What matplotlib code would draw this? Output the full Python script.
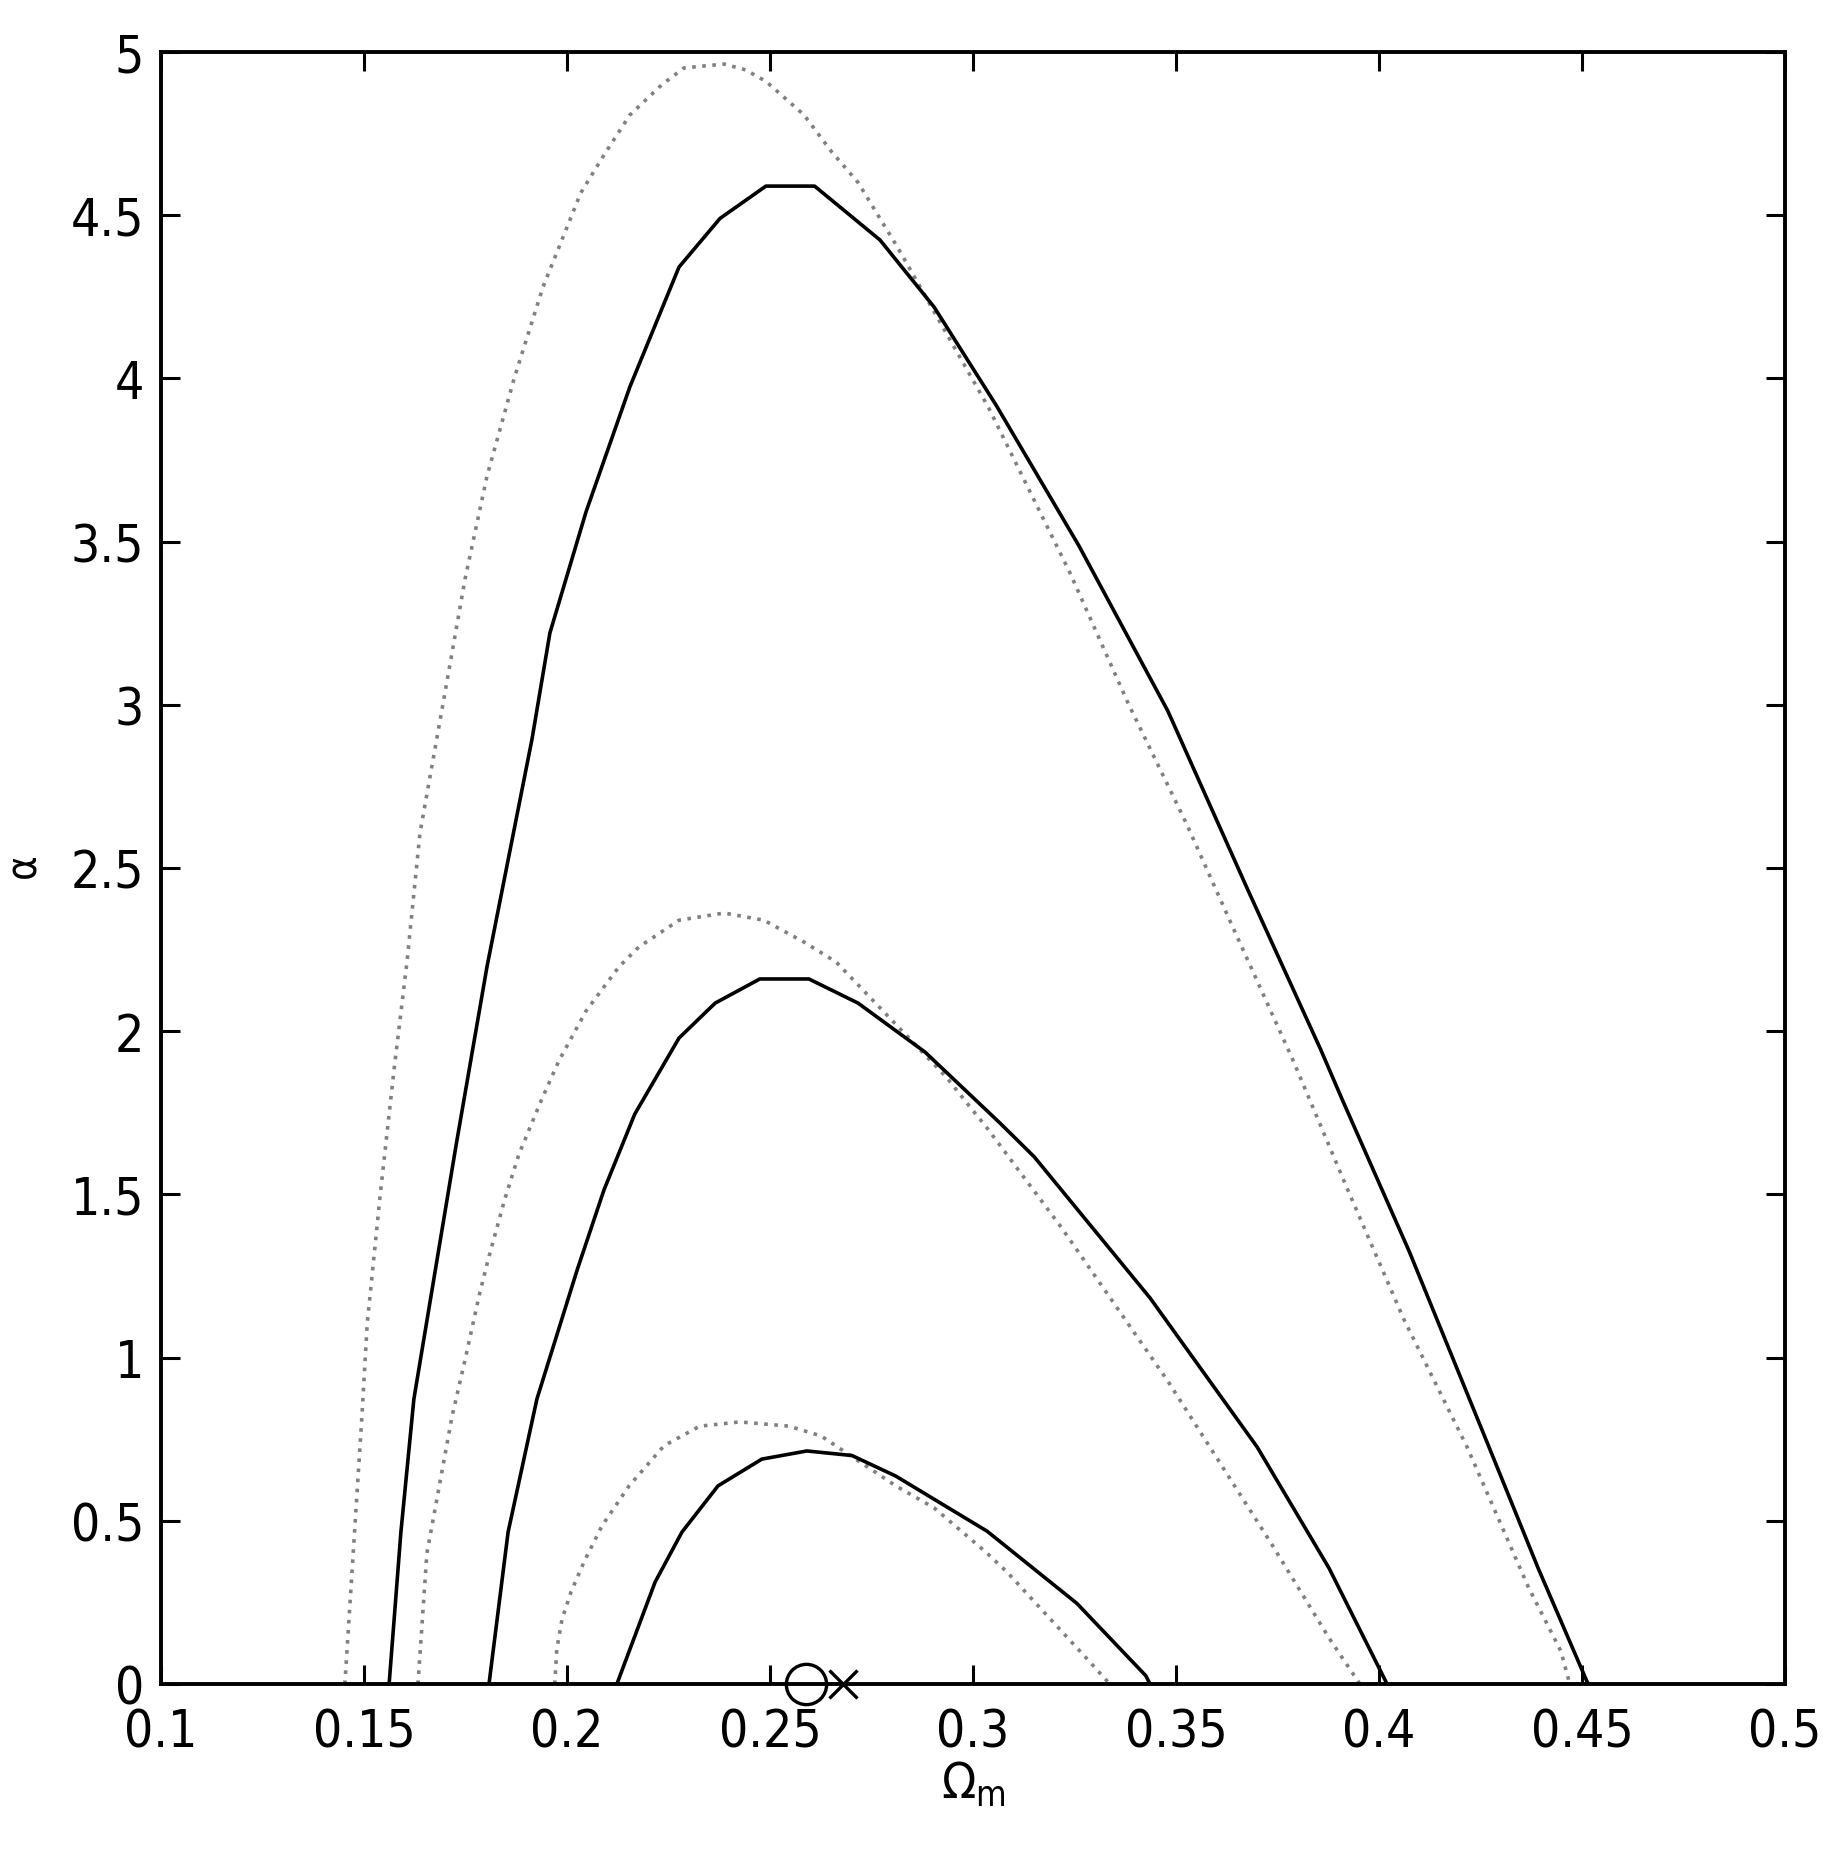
import matplotlib
matplotlib.use('Agg')
import matplotlib.pyplot as plt
from matplotlib import font_manager

names = {f.name for f in font_manager.fontManager.ttflist}
narrow = [n for n in ['Liberation Sans Narrow', 'DejaVu Sans Condensed'] if n in names]
plt.rcParams['font.family'] = narrow + ['DejaVu Sans']
if not narrow:
    plt.rcParams['font.stretch'] = 'condensed'

# contour lines, (Omega_m, alpha)
outer_solid_x = [0.1562, 0.1591, 0.1623, 0.1727, 0.1803, 0.1914, 0.1958, 0.2047, 0.2155, 0.2276, 0.2377,
                 0.249, 0.261, 0.2771, 0.2904, 0.3057, 0.3261, 0.348, 0.3677, 0.3856, 0.3909, 0.4075,
                 0.4271, 0.4392, 0.4515]
outer_solid_y = [0.0, 0.465, 0.873, 1.651, 2.197, 2.895, 3.22, 3.591, 3.974, 4.341, 4.49,
                 4.589, 4.589, 4.424, 4.219, 3.918, 3.487, 2.981, 2.433, 1.945, 1.792, 1.324,
                 0.726, 0.355, 0.0]

outer_dot_x = [0.1453, 0.1495, 0.1508, 0.154, 0.1574, 0.1606, 0.1638, 0.1695, 0.1749, 0.1803, 0.187,
               0.1941, 0.2034, 0.2091, 0.2155, 0.2234, 0.2288, 0.2387, 0.244, 0.249, 0.2584, 0.265,
               0.2717, 0.2815, 0.3039, 0.3239, 0.3382, 0.3525, 0.3633, 0.3788, 0.3919, 0.4061,
               0.4217, 0.4369, 0.4448, 0.447]
outer_dot_y = [0.0, 0.82, 1.103, 1.498, 1.881, 2.212, 2.607, 3.005, 3.385, 3.70, 4.0,
               4.28, 4.568, 4.684, 4.807, 4.90, 4.951, 4.963, 4.945, 4.91, 4.807, 4.697,
               4.60, 4.40, 3.909, 3.404, 3.005, 2.638, 2.338, 1.912, 1.526, 1.118,
               0.726, 0.294, 0.101, 0.0]

mid_solid_x = [0.1808, 0.1855, 0.1926, 0.2025, 0.2091, 0.2167, 0.2276, 0.2365, 0.2475, 0.2596,
               0.2717, 0.2882, 0.3067, 0.3151, 0.3436, 0.37, 0.3877, 0.402]
mid_solid_y = [0.0, 0.465, 0.873, 1.268, 1.513, 1.746, 1.979, 2.086, 2.16, 2.16,
               2.086, 1.936, 1.718, 1.615, 1.183, 0.726, 0.355, 0.0]

mid_dot_x = [0.1633, 0.1655, 0.1717, 0.1749, 0.1783, 0.1805, 0.1847, 0.1882, 0.1936, 0.198, 0.2047,
             0.2128, 0.2177, 0.2276, 0.2387, 0.2485, 0.2584, 0.2663, 0.2727, 0.2936, 0.2985,
             0.3035, 0.3217, 0.348, 0.3734, 0.3877, 0.3953]
mid_dot_y = [0.0, 0.4, 0.82, 0.993, 1.186, 1.296, 1.486, 1.624, 1.786, 1.909, 2.062,
             2.197, 2.258, 2.34, 2.362, 2.34, 2.273, 2.212, 2.129, 1.857, 1.78,
             1.703, 1.40, 0.928, 0.432, 0.141, 0.0]

inner_solid_x = [0.2123, 0.2217, 0.2283, 0.2372, 0.248, 0.2591, 0.2702, 0.281, 0.3035, 0.3256,
                 0.3426, 0.3436]
inner_solid_y = [0.0, 0.312, 0.465, 0.607, 0.689, 0.714, 0.70, 0.637, 0.468, 0.247,
                 0.025, 0.0]

inner_dot_x = [0.197, 0.1975, 0.1988, 0.201, 0.2042, 0.2086, 0.2153, 0.2239, 0.2327, 0.2426, 0.2547,
               0.2626, 0.281, 0.2904, 0.3032, 0.3084, 0.3281, 0.3337]
inner_dot_y = [0.0, 0.107, 0.199, 0.282, 0.374, 0.484, 0.607, 0.73, 0.79, 0.803, 0.79,
               0.76, 0.607, 0.54, 0.404, 0.343, 0.077, 0.0]

circle_pt = (0.259, 0.0)
cross_pt = (0.268, 0.0)

fig = plt.figure(figsize=(18.33, 18.58), dpi=100)
ax = fig.add_axes([0.0878, 0.0931, 0.886, 0.8784])

dot_style = dict(color='0.5', linestyle=(0, (1, 1.8)), linewidth=2.6)
solid_style = dict(color='black', linestyle='-', linewidth=2.6, solid_joinstyle='round')

ax.plot(outer_dot_x, outer_dot_y, **dot_style)
ax.plot(mid_dot_x, mid_dot_y, **dot_style)
ax.plot(inner_dot_x, inner_dot_y, **dot_style)
ax.plot(outer_solid_x, outer_solid_y, **solid_style)
ax.plot(mid_solid_x, mid_solid_y, **solid_style)
ax.plot(inner_solid_x, inner_solid_y, **solid_style)

ax.plot(*circle_pt, marker='o', markersize=29, markerfacecolor='none',
        markeredgecolor='black', markeredgewidth=2.4, clip_on=False)
ax.plot(*cross_pt, marker='x', markersize=20, color='black',
        markeredgewidth=2.4, clip_on=False)

ax.set_xlim(0.1, 0.5)
ax.set_ylim(0, 5)
ax.set_xticks([0.1, 0.15, 0.2, 0.25, 0.3, 0.35, 0.4, 0.45, 0.5])
ax.set_xticklabels(['0.1', '0.15', '0.2', '0.25', '0.3', '0.35', '0.4', '0.45', '0.5'])
ax.set_yticks([0, 0.5, 1, 1.5, 2, 2.5, 3, 3.5, 4, 4.5, 5])
ax.set_yticklabels(['0', '0.5', '1', '1.5', '2', '2.5', '3', '3.5', '4', '4.5', '5'])

ax.tick_params(direction='in', length=14, width=2.2, labelsize=37,
               top=True, right=True)
ax.tick_params(axis='x', pad=17)
ax.tick_params(axis='y', pad=12)
for s in ax.spines.values():
    s.set_linewidth(2.8)

ax.set_xlabel(r'$\Omega_\mathrm{m}$', fontsize=36, labelpad=1)
ax.set_ylabel(r'$\mathrm{\alpha}$', fontsize=30, labelpad=18)

fig.savefig('out.png', dpi=100)
